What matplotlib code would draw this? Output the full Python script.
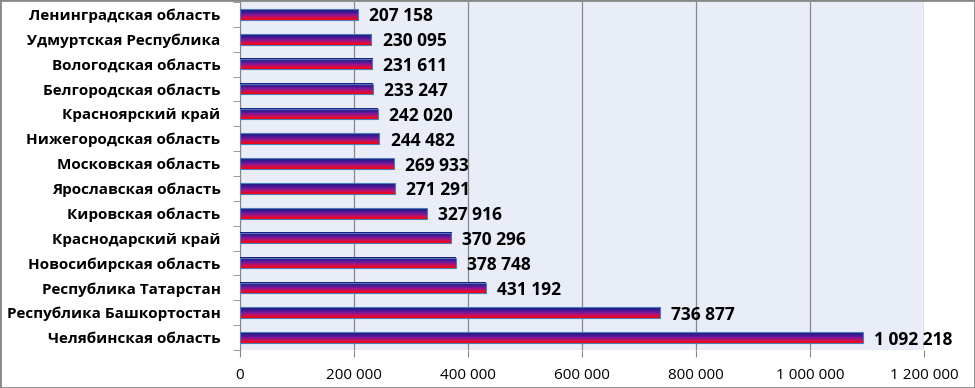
import matplotlib
matplotlib.use("Agg")
import matplotlib.pyplot as plt
import numpy as np
from matplotlib.colors import LinearSegmentedColormap
from matplotlib.patches import Rectangle

# data, bottom to top
regions = [
    "Челябинская область",
    "Республика Башкортостан",
    "Республика Татарстан",
    "Новосибирская область",
    "Краснодарский край",
    "Кировская область",
    "Ярославская область",
    "Московская область",
    "Нижегородская область",
    "Красноярский край",
    "Белгородская область",
    "Вологодская область",
    "Удмуртская Республика",
    "Ленинградская область",
]
values = [1092218, 736877, 431192, 378748, 370296, 327916, 271291,
          269933, 244482, 242020, 233247, 231611, 230095, 207158]
xticks = [0, 200000, 400000, 600000, 800000, 1000000, 1200000]


def fmt(v):
    return f"{v:,}".replace(",", " ")


plt.rcParams['font.family'] = ['Open Sans', 'DejaVu Sans']

fig = plt.figure(figsize=(9.75, 3.88), dpi=100)
ax = fig.add_axes([240 / 975, 38 / 388, 684 / 975, 348 / 388])
ax.set_facecolor("#E9EDF7")

# vertical gradient: dark blue on top, purple in the middle, red at the bottom
cmap = LinearSegmentedColormap.from_list(
    "bar", ["#1A1A80", "#38198F", "#76199C", "#C8105A", "#FF0000"])
grad = np.linspace(0, 1, 64).reshape(-1, 1)

h = 0.42
y = np.arange(len(regions))
for yi, v in zip(y, values):
    ax.imshow(grad, extent=[0, v, yi - h / 2, yi + h / 2], aspect='auto',
              cmap=cmap, zorder=3, interpolation='bilinear')
    ax.add_patch(Rectangle((0, yi - h / 2), v, h, fill=False,
                           edgecolor="#4A7EBB", linewidth=0.8, zorder=4))
    ax.text(v + 20000, yi, fmt(v), va='center_baseline', ha='left',
            fontsize=12.5, fontweight='bold', color='black', zorder=5)

ax.set_xlim(0, 1200000)
ax.set_ylim(-0.5, len(regions) - 0.5)
ax.set_xticks(xticks)
ax.set_xticklabels([fmt(t) for t in xticks], fontsize=11)
ax.set_yticks(y)
ax.set_yticklabels(regions, fontsize=11, fontweight='bold')
ax.set_yticks(np.arange(-0.5, len(regions), 1), minor=True)
ax.tick_params(axis='y', which='major', length=0, pad=14)
ax.tick_params(axis='y', which='minor', length=5, color='#888888', direction='out')
ax.tick_params(axis='x', length=5, color='#888888', pad=8)

ax.grid(axis='x', color='#888888', linewidth=0.9, zorder=1)
ax.set_axisbelow(True)
for s in ['top', 'right', 'bottom']:
    ax.spines[s].set_visible(False)
ax.spines['left'].set_color('#888888')

fig.patches.append(Rectangle((0, 0), 1, 1, transform=fig.transFigure,
                             fill=False, edgecolor='#888888', linewidth=2))

fig.savefig("out.png", dpi=100)
